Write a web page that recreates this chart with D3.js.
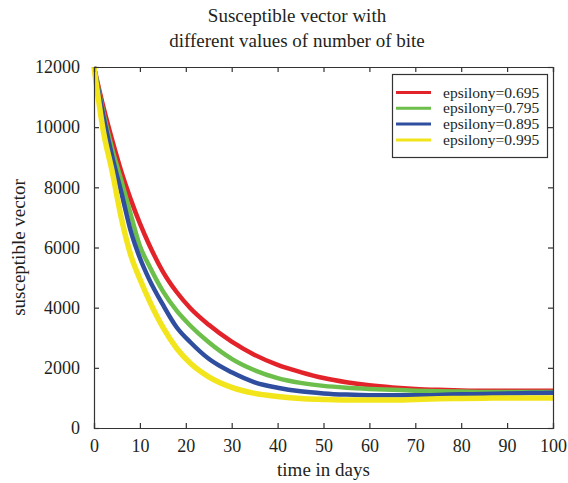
<!DOCTYPE html>
<html>
<head>
<meta charset="utf-8">
<script src="https://cdn.jsdelivr.net/npm/d3@7"></script>
<style>
  html, body { margin: 0; padding: 0; background: #fff; }
  svg text { font-family: "Liberation Serif", "DejaVu Serif", serif; fill: #231f20; }
</style>
</head>
<body>
<svg id="chart" width="568" height="483"></svg>
<script>
// Time points (days)
const days = [0, 2, 4, 6, 8, 10, 12, 15, 18, 21, 25, 30, 35, 40, 45, 50, 55, 60, 65, 70, 75, 80, 85, 90, 95, 100];

// Susceptible vector population for each epsilon value
const eps0695 = [12000, 10700, 9550, 8500, 7600, 6800, 6100, 5200, 4520, 3980, 3430, 2870, 2430, 2100, 1860, 1660, 1520, 1420, 1350, 1300, 1270, 1250, 1240, 1240, 1240, 1240];
const eps0795 = [12000, 10500, 9250, 8200, 7100, 6050, 5400, 4550, 3900, 3400, 2850, 2300, 1920, 1660, 1500, 1400, 1340, 1300, 1270, 1240, 1220, 1210, 1200, 1200, 1200, 1200];
const eps0895 = [12000, 10400, 9000, 7800, 6550, 5650, 4950, 4100, 3350, 2850, 2300, 1850, 1520, 1340, 1220, 1150, 1110, 1090, 1090, 1090, 1100, 1120, 1130, 1150, 1160, 1170];
const eps0995 = [12000, 9900, 8500, 6950, 5750, 4950, 4250, 3350, 2650, 2150, 1700, 1350, 1150, 1050, 980, 950, 930, 930, 930, 950, 970, 980, 990, 1000, 1000, 1000];

const seriesNames = ["epsilony=0.695", "epsilony=0.795", "epsilony=0.895", "epsilony=0.995"];
const seriesValues = [eps0695, eps0795, eps0895, eps0995];
const seriesColors = ["#e3232a", "#6cbf4a", "#2f4e9f", "#f2e51c"];

const xTicks = [0, 10, 20, 30, 40, 50, 60, 70, 80, 90, 100];
const yTicks = [0, 2000, 4000, 6000, 8000, 10000, 12000];

const svg = d3.select("#chart");
const plotLeft = 94, plotRight = 553, plotTop = 67, plotBottom = 428;

const x = d3.scaleLinear().domain([0, 100]).range([plotLeft, plotRight]);
const y = d3.scaleLinear().domain([0, 12000]).range([plotBottom, plotTop]);

// Curves
const line = d3.line().x(d => x(d[0])).y(d => y(d[1])).curve(d3.curveMonotoneX);
const plot = svg.append("g");
seriesValues.forEach((vals, i) => {
  plot.append("path")
    .datum(days.map((t, k) => [t, vals[k]]))
    .attr("d", line)
    .attr("fill", "none")
    .attr("stroke", seriesColors[i])
    .attr("stroke-width", i === 3 ? 5.5 : 4.5)
    .attr("stroke-linejoin", "round");
});

// Axes with inward ticks on all four sides
const axisColor = "#333";
function styleAxis(g, showText) {
  g.select(".domain").attr("stroke", axisColor).attr("stroke-width", 1.2);
  g.selectAll(".tick line").attr("stroke", axisColor).attr("stroke-width", 1.2);
  g.selectAll(".tick text")
    .style("font-size", "18px")
    .attr("fill", "#231f20")
    .style("display", showText ? null : "none");
}

svg.append("g")
  .attr("transform", `translate(0,${plotBottom})`)
  .call(d3.axisBottom(x).tickValues(xTicks).tickSize(-5).tickPadding(11).tickFormat(d3.format("d")))
  .call(g => styleAxis(g, true));

svg.append("g")
  .attr("transform", `translate(0,${plotTop})`)
  .call(d3.axisTop(x).tickValues(xTicks).tickSize(-5).tickFormat(""))
  .call(g => styleAxis(g, false));

svg.append("g")
  .attr("transform", `translate(${plotLeft},0)`)
  .call(d3.axisLeft(y).tickValues(yTicks).tickSize(-5).tickPadding(14).tickFormat(d3.format("d")))
  .call(g => styleAxis(g, true));

svg.append("g")
  .attr("transform", `translate(${plotRight},0)`)
  .call(d3.axisRight(y).tickValues(yTicks).tickSize(-5).tickFormat(""))
  .call(g => styleAxis(g, false));

// Title
svg.append("text")
  .attr("x", 297).attr("y", 22)
  .attr("text-anchor", "middle")
  .style("font-size", "19px")
  .text("Susceptible vector with");
svg.append("text")
  .attr("x", 297).attr("y", 47)
  .attr("text-anchor", "middle")
  .style("font-size", "19px")
  .text("different values of number of bite");

// Axis labels
svg.append("text")
  .attr("x", (plotLeft + plotRight) / 2).attr("y", 476)
  .attr("text-anchor", "middle")
  .style("font-size", "19px")
  .text("time in days");

svg.append("text")
  .attr("transform", `translate(25,${(plotTop + plotBottom) / 2}) rotate(-90)`)
  .attr("text-anchor", "middle")
  .style("font-size", "19px")
  .text("susceptible vector");

// Legend
const legend = svg.append("g");
legend.append("rect")
  .attr("x", 392.5).attr("y", 74.5)
  .attr("width", 155).attr("height", 83)
  .attr("fill", "#fff")
  .attr("stroke", axisColor).attr("stroke-width", 1.2);
seriesNames.forEach((name, i) => {
  const cy = 92.5 + i * 15.8;
  legend.append("line")
    .attr("x1", 396).attr("x2", 431)
    .attr("y1", cy).attr("y2", cy)
    .attr("stroke", seriesColors[i]).attr("stroke-width", 3);
  legend.append("text")
    .attr("x", 443).attr("y", cy)
    .attr("dy", "0.33em")
    .style("font-size", "15.5px")
    .text(name);
});
</script>
</body>
</html>
